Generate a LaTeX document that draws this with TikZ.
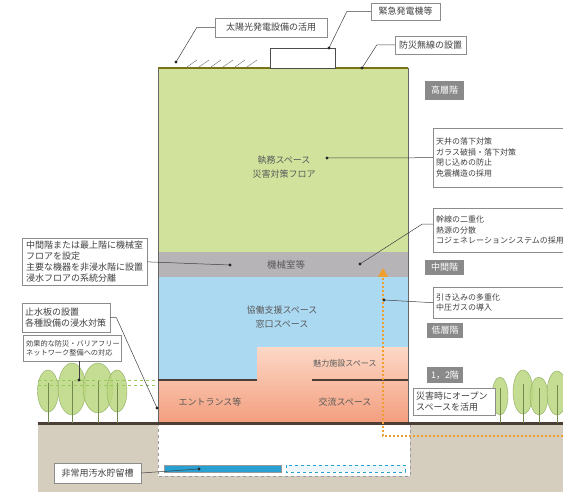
\documentclass[tikz,border=0pt]{standalone}
\usepackage{fontspec}
\setmainfont{Noto Sans CJK JP}
\usepackage{tikz}
\usetikzlibrary{positioning}
\usetikzlibrary{arrows.meta}

\definecolor{officegreen}{RGB}{208,226,156}
\definecolor{plantgray}{RGB}{182,180,182}
\definecolor{lowblue}{RGB}{172,217,242}
\definecolor{salmontop}{RGB}{252,216,198}
\definecolor{salmonbot}{RGB}{243,158,126}
\definecolor{soil}{RGB}{213,205,190}
\definecolor{slab}{RGB}{75,62,54}
\definecolor{floorlabel}{RGB}{138,138,138}
\definecolor{leaf}{RGB}{186,215,128}
\definecolor{leafline}{RGB}{140,172,96}
\definecolor{network}{RGB}{150,200,90}
\definecolor{route}{RGB}{240,158,48}
\definecolor{tankblue}{RGB}{40,160,210}

\begin{document}
\begin{tikzpicture}[x=1pt, y=-1pt,
    note/.style={draw=black!45, fill=white, text=black!75, inner sep=3pt,
        font=\fontsize{8}{10.5}\selectfont},
    floortag/.style={fill=floorlabel, text=white, inner sep=0pt,
        font=\fontsize{9}{10}\selectfont},
    roomtext/.style={text=black!65, align=center, font=\fontsize{9}{14}\selectfont},
    leader/.style={draw=black!75, line width=0.5pt},
    ]

    \useasboundingbox (0,0) rectangle (563,492);
    \clip (0,0) rectangle (563,492);

    % ground and basement
    \path[fill=soil] (38,423) rectangle (563,492);
    \path[draw=black!40, dashed, fill=white] (158,423) rectangle (410,476);
    \path[draw=black!40, fill=tankblue] (164,465) rectangle (281,472);
    \path[draw=tankblue, dashed, fill=tankblue!8] (286,465) rectangle (405,472);

    % floors of the building
    \path[fill=officegreen] (158,68) rectangle (408,252);
    \path[fill=plantgray] (158,252) rectangle (408,277);
    \path[fill=lowblue] (158,277) rectangle (408,380);
    \shade[top color=salmontop, bottom color=salmonbot]
        (158,380) -- (257,380) -- (257,347) -- (408,347) -- (408,423) -- (158,423) -- cycle;
    \path[draw=black!60, line width=0.8pt] (158,68) rectangle (408,423);
    \path[draw=olive!80!black, line width=1.5pt] (158,68) -- (408,68);
    \path[draw=slab, line width=2.5pt] (158,380) -- (257,380);
    \path[draw=slab, line width=2.5pt] (312,380) -- (408,380);
    \path[draw=slab, line width=3pt] (38,423) -- (563,423);

    % roof equipment
    \foreach \x in {187,199,...,247} {
        \path[draw=black!60] (\x,67) -- ++(10,-7);
    }
    \path[draw=black!70, fill=white] (270,48) rectangle (335,68);

    % trees
    \foreach \x/\y/\rx/\ry in {48/391/10.5/21, 72/389/14/26, 98/388/15/25, 117/391/10/21,
        500/396/8/19, 523/392/10/22, 539/396/9/19, 557/393/10/22} {
        \path[draw=leafline, fill=leaf, fill opacity=0.85] (\x,\y) ellipse (\rx pt and \ry pt);
        \path[draw=leafline!80!black] (\x,\y-8) -- (\x,423);
    }

    % pedestrian network
    \path[draw=network, line width=1pt, dashed] (38,380) -- (157,380);
    \path[draw=network, line width=1pt, dashed] (38,385) -- (157,385);

    % evacuation route
    \path[draw=route, line width=1.5pt, dash pattern=on 2pt off 2pt,
        -{Triangle[width=10pt,length=9pt]}] (563,436) -- (383,436) -- (383,268);

    % room names
    \node[roomtext] (officetxt) at (284,167) {執務スペース\\災害対策フロア};
    \node[roomtext, font=\fontsize{9.5}{12}\selectfont] (planttxt) at (286,265) {機械室等};
    \node[roomtext] (supporttxt) at (282,317) {協働支援スペース\\窓口スペース};
    \node[roomtext, font=\fontsize{8}{10}\selectfont] (attracttxt) at (345,363) {魅力施設スペース};
    \node[roomtext] (entrancetxt) at (210,402) {エントランス等};
    \node[roomtext] (exchangetxt) at (345,402) {交流スペース};

    % floor tags
    \node[floortag, minimum width=39pt, minimum height=19pt] (hightag) at (444.5,90.5) {高層階};
    \node[floortag, minimum width=39pt, minimum height=15pt] (midtag) at (444.5,267.5) {中間階};
    \node[floortag, minimum width=36pt, minimum height=15pt] (lowtag) at (445,330.5) {低層階};
    \node[floortag, minimum width=36pt, minimum height=16pt] (firsttag) at (445,375) {1，2階};

    % notes
    \node[note, font=\fontsize{9}{10}\selectfont, minimum width=112pt, minimum height=19pt]
        (solarlbl) at (271,27.5) {太陽光発電設備の活用};
    \node[note, font=\fontsize{9}{10}\selectfont, minimum width=69pt, minimum height=17pt]
        (genlbl) at (405.5,11.5) {緊急発電機等};
    \node[note, font=\fontsize{9}{10}\selectfont, minimum width=71pt, minimum height=18pt]
        (radiolbl) at (430.5,45) {防災無線の設置};
    \node[note, anchor=north west, text width=150pt, align=left, minimum height=59pt]
        (quakelbl) at (433,128) {天井の落下対策\\ガラス破損・落下対策\\閉じ込めの防止\\免震構造の採用};
    \node[note, anchor=north west, text width=150pt, align=left, minimum height=44pt]
        (powerlbl) at (433,208) {幹線の二重化\\熱源の分散\\コジェネレーションシステムの採用};
    \node[note, anchor=north west, text width=150pt, align=left, minimum height=31pt]
        (gaslbl) at (433,287) {引き込みの多重化\\中圧ガスの導入};
    \node[note, anchor=north west, font=\fontsize{9}{11}\selectfont, text width=76pt,
        align=left, minimum height=27pt] (openlbl) at (413,388) {災害時にオープン\\スペースを活用};
    \node[note, anchor=north west, font=\fontsize{9}{11}\selectfont, text width=117pt,
        inner xsep=4pt, align=left, minimum height=47pt]
        (mechlbl) at (22,238) {中間階または最上階に機械室\\フロアを設定\\主要な機器を非浸水階に設置\\浸水フロアの系統分離};
    \node[note, anchor=north west, font=\fontsize{9}{11}\selectfont, text width=82pt,
        align=left, minimum height=29pt] (floodlbl) at (22,303) {止水板の設置\\各種設備の浸水対策};
    \node[note, anchor=north west, font=\fontsize{7.2}{9.5}\selectfont, text width=92pt,
        align=left, minimum height=26pt] (bflbl) at (23,335) {効果的な防災・バリアフリー\\ネットワーク整備への対応};
    \node[note, font=\fontsize{9}{10}\selectfont, minimum width=87pt, minimum height=20pt]
        (tanklbl) at (97.5,473) {非常用汚水貯留槽};

    % leader ends
    \coordinate (solardot) at (176,62);
    \coordinate (gendot) at (329,48);
    \coordinate (radiodot) at (362,68);
    \coordinate (officedot) at (327,158);
    \coordinate (plantdot) at (360,264);
    \coordinate (mechdot) at (230,265);
    \coordinate (routedot) at (384,300);
    \coordinate (flooddot) at (157,408);
    \coordinate (networkdot) at (79,380);
    \coordinate (tankdot) at (199,469);

    % leaders
    \path[leader] (solardot) -- ([xshift=-18pt]solarlbl.west) -- (solarlbl.west);
    \path[leader] (gendot) -- ([xshift=-24pt]genlbl.west) -- (genlbl.west);
    \path[leader] (radiodot) -- ([xshift=-18pt]radiolbl.west) -- (radiolbl.west);
    \path[leader] (officedot) -- (quakelbl.west);
    \path[leader] (plantdot) -- ([xshift=-11pt,yshift=6pt]powerlbl.west) -- ([yshift=6pt]powerlbl.west);
    \path[leader] (mechlbl.east) -- (mechdot);
    \path[leader] (routedot) -- (gaslbl.west);
    \path[leader] (floodlbl.east) -- ([xshift=6pt]floodlbl.east) -- (flooddot);
    \path[leader] (networkdot) -- (networkdot |- bflbl.south);
    \path[leader] (tanklbl.east) -- (tankdot);
    \foreach \d in {solardot,gendot,radiodot,officedot,plantdot,mechdot,routedot,flooddot,networkdot,tankdot} {
        \path[fill=black!85] (\d) circle (1.6pt);
    }

\end{tikzpicture}
\end{document}
